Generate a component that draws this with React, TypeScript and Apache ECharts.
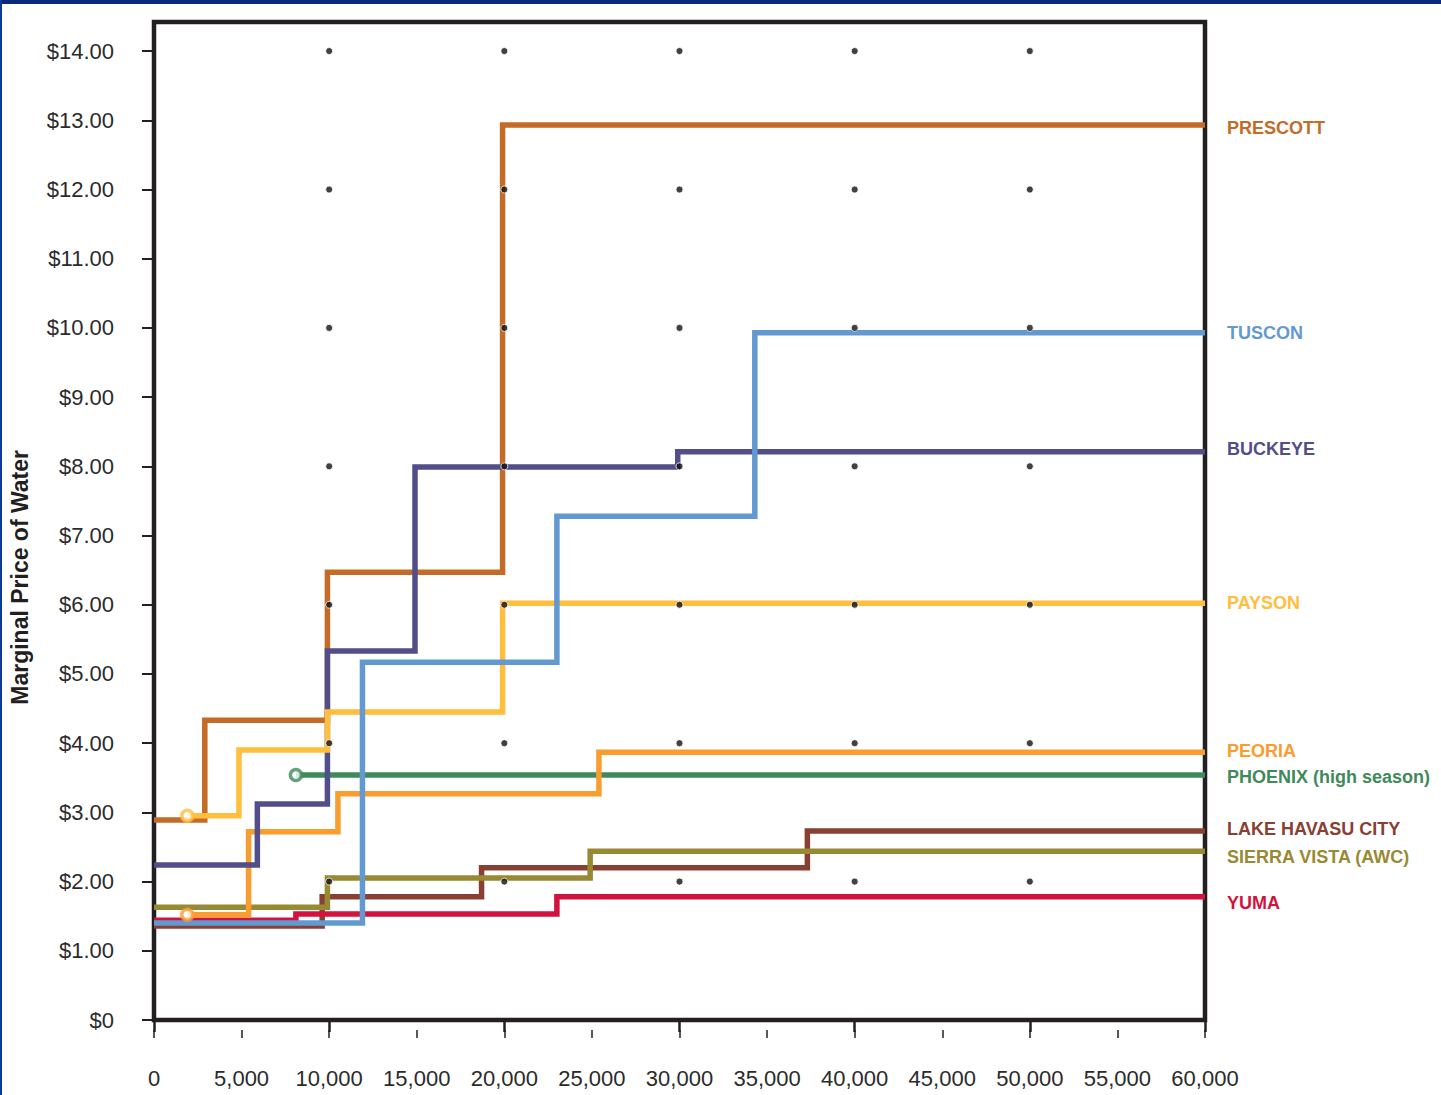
import React, { useEffect, useRef } from "react";
import * as echarts from "echarts";

// ---- data ----
const xTicks = [0, 5000, 10000, 15000, 20000, 25000, 30000, 35000, 40000, 45000, 50000, 55000, 60000];
const yTicks = [0, 1, 2, 3, 4, 5, 6, 7, 8, 9, 10, 11, 12, 13, 14];
const dotX = [10000, 20000, 30000, 40000, 50000];
const dotY = [2, 4, 6, 8, 10, 12, 14];

const prescott = [[0, 2.89], [2900, 4.33], [9900, 6.47], [19900, 12.93], [60000, 12.93]];
const tuscon = [[0, 1.4], [11900, 5.17], [23000, 7.28], [34300, 9.93], [60000, 9.93]];
const buckeye = [[0, 2.24], [5900, 3.12], [9900, 5.33], [14900, 7.99], [29900, 8.21], [60000, 8.21]];
const payson = [[1900, 2.95], [4850, 3.9], [9900, 4.45], [19900, 6.02], [60000, 6.02]];
const peoria = [[1900, 1.52], [5400, 2.72], [10500, 3.27], [25400, 3.87], [60000, 3.87]];
const phoenix = [[8100, 3.54], [60000, 3.54]];
const lakeHavasu = [[0, 1.36], [9600, 1.78], [18700, 2.2], [37300, 2.73], [60000, 2.73]];
const sierraVista = [[0, 1.63], [9900, 2.05], [24900, 2.44], [60000, 2.44]];
const yuma = [[0, 1.44], [8100, 1.53], [23000, 1.78], [60000, 1.78]];

const Y_MAX = 14.42;
const FONT = "'Liberation Sans', Arial, sans-serif";

type Ser = { name: string; data: number[][]; color: string; dy: number; marker?: boolean };

// drawing order: bottom to top
const seriesDefs: Ser[] = [
  { name: "PRESCOTT", data: prescott, color: "#c46b27", dy: 3 },
  { name: "LAKE HAVASU CITY", data: lakeHavasu, color: "#874031", dy: -2 },
  { name: "SIERRA VISTA (AWC)", data: sierraVista, color: "#988a32", dy: 6 },
  { name: "YUMA", data: yuma, color: "#d3133f", dy: 6 },
  { name: "PHOENIX (high season)", data: phoenix, color: "#3f8a5b", dy: 2, marker: true },
  { name: "PEORIA", data: peoria, color: "#f99d2f", dy: -1, marker: true },
  { name: "BUCKEYE", data: buckeye, color: "#524e89", dy: -3 },
  { name: "PAYSON", data: payson, color: "#ffbe3c", dy: 0, marker: true },
  { name: "TUSCON", data: tuscon, color: "#6399d1", dy: 0 },
];

export default function App() {
  const ref = useRef<HTMLDivElement>(null);
  useEffect(() => {
    document.body.style.margin = "0";
    if (!ref.current) return;
    const chart = echarts.init(ref.current, undefined, { renderer: "svg" });

    const lineSeries: any[] = seriesDefs.map((s, i) => ({
      type: "line",
      name: s.name,
      step: "end",
      data: s.data,
      symbol: "none",
      showSymbol: false,
      z: 3 + i * 0.01,
      lineStyle: { color: s.color, width: 5.5, cap: "butt", join: "miter" },
      itemStyle: { color: s.color },
      endLabel: {
        show: true,
        formatter: s.name,
        color: s.color,
        fontFamily: FONT,
        fontWeight: "bold",
        fontSize: 18,
        distance: 22,
        offset: [0, s.dy],
      },
      emphasis: { disabled: true },
      silent: true,
    }));

    const markerSeries = seriesDefs
      .filter((s) => s.marker)
      .map((s) => ({
        type: "scatter",
        data: [s.data[0]],
        symbol: "circle",
        symbolSize: 11,
        z: 5,
        itemStyle: { color: "#ffffff", borderColor: s.color, borderWidth: 3.5 },
        silent: true,
      }));

    const dots: number[][] = [];
    dotX.forEach((x) => dotY.forEach((y) => dots.push([x, y])));

    const option: any = {
      animation: false,
      backgroundColor: "#ffffff",
      grid: {
        left: 154,
        right: 236,
        top: 22,
        bottom: 75,
        show: true,
        borderColor: "#231f20",
        borderWidth: 4.5,
        backgroundColor: "transparent",
      },
      xAxis: [
        {
          type: "value", min: 0, max: 60000,
          axisLine: { show: false }, axisTick: { show: false },
          axisLabel: { show: false }, splitLine: { show: false },
        },
        {
          type: "value", min: 0, max: 60000, interval: 10000, position: "bottom", offset: 10,
          axisLine: { show: false },
          axisTick: { show: true, length: 12, lineStyle: { color: "#231f20", width: 2.5 } },
          axisLabel: { show: false }, splitLine: { show: false },
        },
        {
          type: "value", min: 0, max: 60000, interval: 5000, position: "bottom", offset: 10,
          axisLine: { show: false },
          axisTick: { show: true, length: 8, lineStyle: { color: "#231f20", width: 1.5 } },
          axisLabel: {
            show: true, margin: 37, color: "#2b2b2b", fontFamily: FONT, fontSize: 22,
            formatter: (v: number) => v.toLocaleString("en-US"),
            customValues: xTicks,
          },
          splitLine: { show: false },
        },
      ],
      yAxis: [
        {
          type: "value", min: 0, max: Y_MAX,
          axisLine: { show: false }, axisTick: { show: false },
          axisLabel: { show: false }, splitLine: { show: false },
        },
        {
          type: "value", min: 0, max: Y_MAX, position: "left", offset: 9,
          axisLine: { show: false },
          axisTick: { show: true, length: 12, customValues: yTicks, lineStyle: { color: "#231f20", width: 2 } },
          axisLabel: {
            show: true, margin: 31, color: "#2b2b2b", fontFamily: FONT, fontSize: 22,
            customValues: yTicks,
            formatter: (v: number) => (v === 0 ? "$0" : "$" + v.toFixed(2)),
          },
          splitLine: { show: false },
        },
      ],
      graphic: [
        { type: "rect", left: 0, top: 0, shape: { width: 1441, height: 4 }, style: { fill: "#0a2b7c" }, silent: true },
        { type: "rect", left: 0, top: 0, shape: { width: 2, height: 1095 }, style: { fill: "#0b3a9c" }, silent: true },
        {
          type: "text",
          left: 8,
          top: 450,
          rotation: Math.PI / 2,
          style: {
            text: "Marginal Price of Water",
            fill: "#231f20",
            font: "bold 23px " + FONT,
          },
          silent: true,
        },
      ],
      series: [
        ...lineSeries,
        ...markerSeries,
        {
          type: "scatter",
          data: dots,
          symbol: "circle",
          symbolSize: 7,
          z: 10,
          itemStyle: { color: "#111111", borderColor: "#ffffff", borderWidth: 1 },
          silent: true,
        },
      ],
    };
    chart.setOption(option);
    return () => chart.dispose();
  }, []);
  return <div ref={ref} style={{ width: 1441, height: 1095 }} />;
}
